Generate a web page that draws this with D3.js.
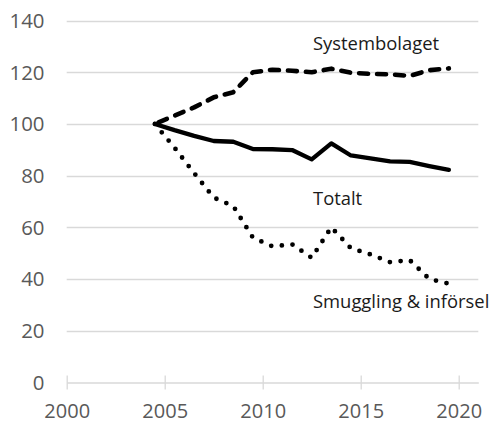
<!DOCTYPE html>
<html>
<head>
<meta charset="utf-8">
<script src="https://cdn.jsdelivr.net/npm/d3@7"></script>
<style>
  html, body { margin: 0; padding: 0; background: #fff; }
  svg { display: block; }
</style>
</head>
<body>
<svg id="chart" width="494" height="423"></svg>
<script>
// ---- data ----
const years = [2004, 2005, 2006, 2007, 2008, 2009, 2010, 2011, 2012, 2013, 2014, 2015, 2016, 2017, 2018, 2019];
const systembolaget = [100, 103.2, 106.4, 110.3, 112.3, 120, 121, 120.6, 120, 121.4, 119.8, 119.4, 119.2, 118.6, 120.8, 121.5];
const totalt = [100, 97.6, 95.4, 93.4, 93.1, 90.3, 90.2, 89.9, 86.3, 92.5, 87.8, 86.7, 85.5, 85.3, 83.7, 82.2];
const smuggling = [100, 90.8, 81, 71.5, 68.2, 56, 52.6, 53.4, 48.2, 60, 51.9, 49.5, 46.5, 47.3, 40, 38.2];
const seriesNames = ["Systembolaget", "Totalt", "Smuggling & införsel"];
const xTicks = [2000, 2005, 2010, 2015, 2020];
const yTicks = [0, 20, 40, 60, 80, 100, 120, 140];

// ---- layout ----
const svg = d3.select("#chart");
const x = d3.scaleLinear().domain([2000, 2021]).range([66.7, 478.3]);
const y = d3.scaleLinear().domain([0, 140]).range([382.3, 20.6]);
const font = "'Open Sans', sans-serif";

// gridlines
svg.append("g")
  .selectAll("line")
  .data(yTicks.filter(d => d !== 0))
  .join("line")
  .attr("x1", x(2000)).attr("x2", x(2021))
  .attr("y1", d => Math.round(y(d)) + 0.5).attr("y2", d => Math.round(y(d)) + 0.5)
  .attr("stroke", "#d9d9d9").attr("stroke-width", 1.3);

// y axis labels
svg.append("g")
  .selectAll("text")
  .data(yTicks)
  .join("text")
  .attr("x", 44.5)
  .attr("y", d => y(d))
  .attr("dy", "0.36em")
  .attr("text-anchor", "end")
  .attr("font-family", font).attr("font-size", 20.4)
  .attr("fill", "#595959")
  .text(d => d);

// x axis
const xAxis = d3.axisBottom(x).tickValues(xTicks).tickSize(7).tickSizeOuter(0).tickFormat(d3.format("d"));
const gx = svg.append("g").attr("transform", `translate(0,${Math.round(y(0)) + 0.5})`).call(xAxis);
gx.select(".domain").attr("stroke", "#d9d9d9").attr("stroke-width", 1.3);
gx.selectAll(".tick line").attr("stroke", "#d9d9d9").attr("stroke-width", 1.3).attr("y1", -7).attr("y2", 7);
gx.selectAll(".tick text")
  .attr("y", 0).attr("dy", 0)
  .attr("transform", "translate(0,35)")
  .attr("font-family", font).attr("font-size", 20)
  .attr("fill", "#595959");

// lines
const line = d3.line().x((d, i) => x(years[i] + 0.5)).y(d => y(d));

svg.append("path").datum(totalt)
  .attr("d", line).attr("fill", "none")
  .attr("stroke", "#000").attr("stroke-width", 4.3)
  .attr("stroke-linejoin", "round").attr("stroke-linecap", "round");

svg.append("path").datum(systembolaget)
  .attr("d", line).attr("fill", "none")
  .attr("stroke", "#000").attr("stroke-width", 4.6)
  .attr("stroke-dasharray", "9,9")
  .attr("stroke-dashoffset", -4)
  .attr("stroke-linejoin", "round").attr("stroke-linecap", "round");

svg.append("path").datum(smuggling)
  .attr("d", line).attr("fill", "none")
  .attr("stroke", "#000").attr("stroke-width", 4.8)
  .attr("stroke-dasharray", "0,10.8")
  .attr("stroke-dashoffset", -10.8)
  .attr("stroke-linejoin", "round").attr("stroke-linecap", "round");

// series labels
const labelPos = [[313, 50], [313, 205], [313, 308]];
svg.append("g")
  .selectAll("text")
  .data(seriesNames)
  .join("text")
  .attr("x", (d, i) => labelPos[i][0])
  .attr("y", (d, i) => labelPos[i][1])
  .attr("font-family", font).attr("font-size", 18.4)
  .attr("fill", "#1a1a1a")
  .text(d => d);
</script>
</body>
</html>
